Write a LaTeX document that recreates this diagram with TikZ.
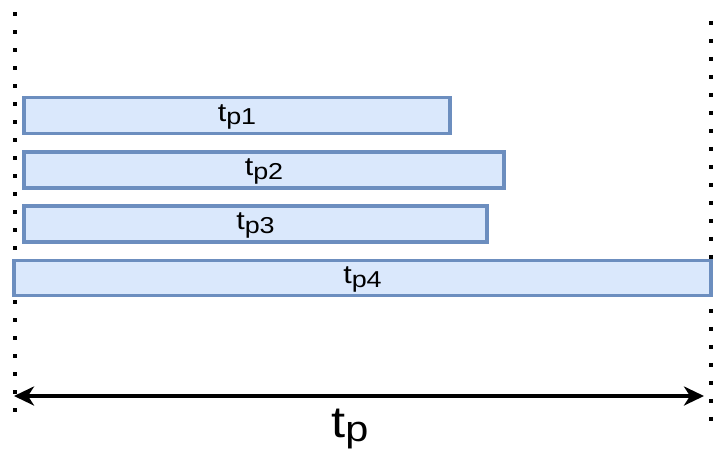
\documentclass[tikz,border=0pt]{standalone}
\usepackage{fontspec}
\setmainfont{Liberation Sans}
\usetikzlibrary{arrows.meta}
\definecolor{barfill}{HTML}{DAE8FC}
\definecolor{barline}{HTML}{6C8EBF}
% label of a partial duration: large t, smaller lowered index
\newcommand{\durlabel}[1]{\scalebox{1.17}[1]{\raisebox{3.5pt}{\fontsize{26}{28}\selectfont t}\fontsize{23}{26}\selectfont #1}}
\begin{document}
\begin{tikzpicture}[x=1pt,y=-1pt,
  bar/.style={draw=barline,fill=barfill,line width=3.6pt,inner sep=0pt},
  barlabel/.style={inner sep=0pt,anchor=base,yshift=-9.2pt},
  guide/.style={line width=3.6pt,dash pattern=on 3.6pt off 14.4pt},
  span/.style={line width=3.6pt,{Stealth[length=20pt,width=19pt,inset=6pt]}-{Stealth[length=20pt,width=19pt,inset=6pt]}}]
\useasboundingbox (0,0) rectangle (714,456);
% time limits
\coordinate (l0) at (15,12.2);
\coordinate (l1) at (15,416);
\coordinate (r0) at (711,20.9);
\coordinate (r1) at (711,424);
\draw[guide] (l0) -- (l1);
\draw[guide] (r0) -- (r1);
% partial durations
\node[bar,minimum width=426pt,minimum height=36pt] (b1) at (237,115.5) {};
\node[bar,minimum width=480pt,minimum height=36pt] (b2) at (264,170) {};
\node[bar,minimum width=463pt,minimum height=36pt] (b3) at (255.5,224) {};
\node[bar,minimum width=697pt,minimum height=35pt] (b4) at (362.5,278) {};
\node[barlabel] (t1) at (b1.center) {\durlabel{p1}};
\node[barlabel] (t2) at (b2.center) {\durlabel{p2}};
\node[barlabel] (t3) at (b3.center) {\durlabel{p3}};
\node[barlabel] (t4) at (b4.center) {\durlabel{p4}};
% total duration
\coordinate (a0) at (14,396);
\coordinate (a1) at (704,396);
\draw[span] (a0) -- (a1);
\node[inner sep=0pt,anchor=base west] (tp) at (331,441) {\scalebox{1.15}[1]{\raisebox{3.5pt}{\fontsize{44}{48}\selectfont t}\fontsize{36}{40}\selectfont p}};
\end{tikzpicture}
\end{document}
